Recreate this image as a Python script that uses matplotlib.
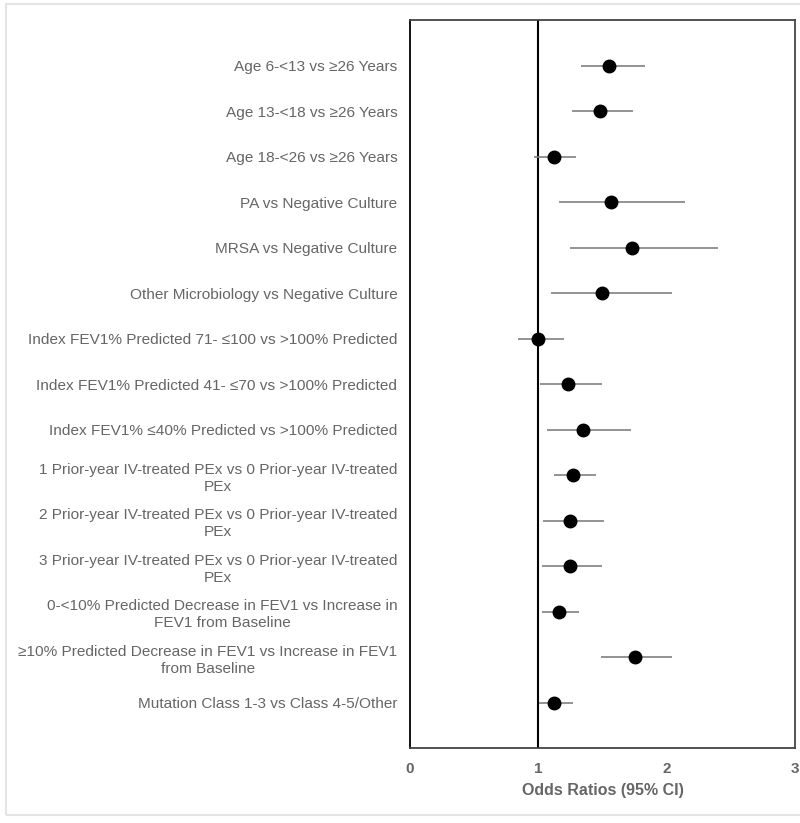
import matplotlib
matplotlib.use('Agg')
import matplotlib.pyplot as plt
from matplotlib.patches import Rectangle

plt.rcParams['font.family'] = ['Liberation Sans', 'DejaVu Sans']

# --- Data (top to bottom) ---
labels = [
    'Age 6-<13 vs ≥26 Years',
    'Age 13-<18 vs ≥26 Years',
    'Age 18-<26 vs ≥26 Years',
    'PA vs Negative Culture',
    'MRSA vs Negative Culture',
    'Other Microbiology vs Negative Culture',
    'Index FEV1% Predicted 71- ≤100 vs >100% Predicted',
    'Index FEV1% Predicted 41- ≤70 vs >100% Predicted',
    'Index FEV1% ≤40% Predicted vs >100% Predicted',
    '1 Prior-year IV-treated PEx vs 0 Prior-year IV-treated\nPEx',
    '2 Prior-year IV-treated PEx vs 0 Prior-year IV-treated\nPEx',
    '3 Prior-year IV-treated PEx vs 0 Prior-year IV-treated\nPEx',
    '0-<10% Predicted Decrease in FEV1 vs Increase in\nFEV1 from Baseline',
    '≥10% Predicted Decrease in FEV1 vs Increase in FEV1\nfrom Baseline',
    'Mutation Class 1-3 vs Class 4-5/Other',
]
odds = [1.55, 1.48, 1.12, 1.57, 1.73, 1.50, 1.00, 1.23, 1.35, 1.27, 1.25, 1.245, 1.16, 1.75, 1.125]
ci_low = [1.33, 1.26, 0.97, 1.16, 1.25, 1.10, 0.84, 1.01, 1.07, 1.12, 1.04, 1.03, 1.03, 1.49, 1.005]
ci_high = [1.83, 1.74, 1.29, 2.14, 2.40, 2.04, 1.20, 1.50, 1.72, 1.45, 1.51, 1.50, 1.32, 2.04, 1.27]

grey = '#666666'

fig = plt.figure(figsize=(8, 8.23), dpi=100)
ax = fig.add_axes([0.5125, 0.0911, 0.48125, 0.8846])

# light grey outer border like the source image
fig.patches.append(Rectangle((6 / 800, 1 - 815 / 823), 1, 811 / 823, transform=fig.transFigure,
                             fill=False, edgecolor='#e4e4e4', linewidth=1.5))

n = len(labels)
ypos = list(range(n, 0, -1))

ax.hlines(ypos, ci_low, ci_high, color='#808080', linewidth=1.2, zorder=2)
ax.plot(odds, ypos, 'o', color='black', markersize=9, zorder=3)
ax.axvline(1, color='black', linewidth=1.5, zorder=1)

ax.set_xlim(0, 3)
ax.set_ylim(0, n + 1)
ax.set_xticks([0, 1, 2, 3])
ax.set_yticks(ypos)
ax.set_yticklabels(labels, color=grey, fontsize=11.1, multialignment='center', linespacing=1.3)
ax.tick_params(axis='y', length=0, pad=9)
ax.tick_params(axis='x', length=0, pad=10, labelsize=11, labelcolor=grey)
for t in ax.get_xticklabels():
    t.set_fontweight('bold')
ax.set_xlabel('Odds Ratios (95% CI)', color=grey, fontsize=11.5, fontweight='bold', labelpad=5)

for s in ['top', 'right', 'bottom']:
    ax.spines[s].set_color('#444444')
    ax.spines[s].set_linewidth(1.3)
ax.spines['left'].set_color('black')
ax.spines['left'].set_linewidth(1.3)

plt.savefig('out.png', dpi=100)
plt.close()
